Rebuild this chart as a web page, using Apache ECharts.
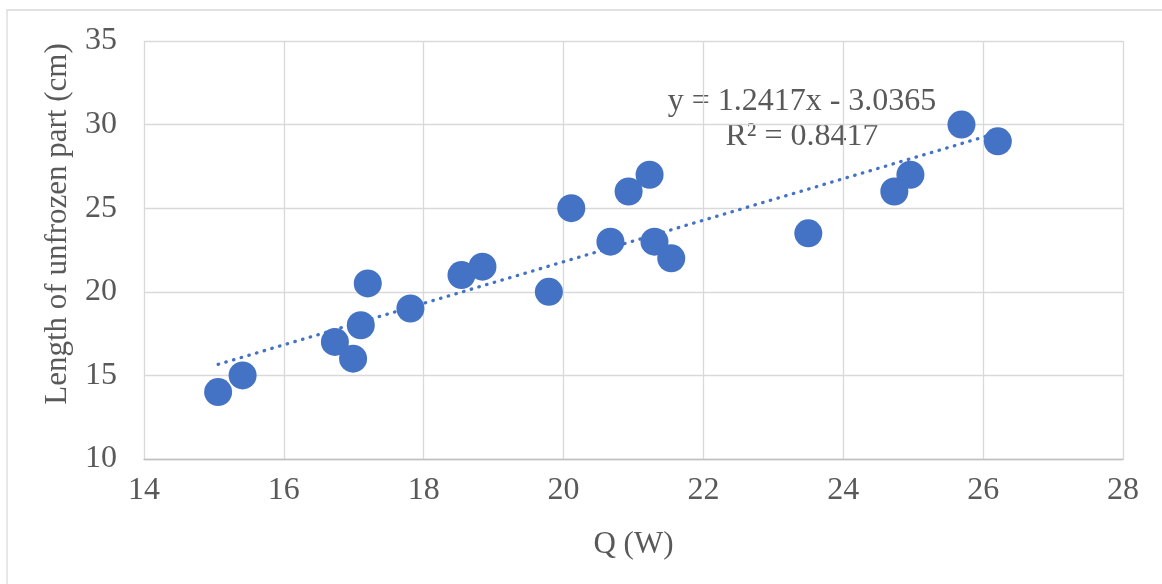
<!DOCTYPE html>
<html>
<head>
<meta charset="utf-8">
<script src="https://cdn.jsdelivr.net/npm/echarts@6/dist/echarts.min.js"></script>
<style>
html,body{margin:0;padding:0;background:#fff;}
#chart{width:1162px;height:584px;}
</style>
</head>
<body>
<div id="chart"></div>
<script>
// Data
const qValues = [15.06, 15.41, 16.73, 16.99, 17.10, 17.20, 17.81, 18.54, 18.84, 19.79, 20.11, 20.67, 20.93, 21.23, 21.30, 21.54, 23.50, 24.73, 24.96, 25.69, 26.21];
const lengthValues = [14.0, 15.0, 17.0, 16.0, 18.0, 20.5, 19.0, 21.0, 21.5, 20.0, 25.0, 23.0, 26.0, 27.0, 23.0, 22.0, 23.5, 26.0, 27.0, 30.0, 29.0];
// Linear trendline endpoints (as drawn in the reference)
const trendX = [15.06, 26.21];
const trendY = [15.66, 29.51];
const equationLines = ['y = 1.2417x - 3.0365', 'R² = 0.8417'];
const xTitle = 'Q (W)';
const yTitle = 'Length of unfrozen part (cm)';

const font = '"Liberation Serif", "Times New Roman", serif';
const scatterData = qValues.map((q, i) => [q, lengthValues[i]]);
const trendData = trendX.map((x, i) => [x, trendY[i]]);

const chart = echarts.init(document.getElementById('chart'), null, {renderer: 'canvas'});
chart.setOption({
  animation: false,
  backgroundColor: '#fff',
  grid: {left: 144, right: 39, top: 41, bottom: 125},
  xAxis: {
    type: 'value', min: 14, max: 28, interval: 2,
    name: xTitle, nameLocation: 'middle', nameGap: 70,
    nameTextStyle: {fontFamily: font, fontSize: 31, color: '#595959'},
    axisLine: {show: true, lineStyle: {color: '#bfbfbf', width: 1.3}},
    axisTick: {show: false},
    axisLabel: {fontFamily: font, fontSize: 32, color: '#595959', margin: 16},
    splitLine: {show: true, lineStyle: {color: '#d9d9d9', width: 1.3}}
  },
  yAxis: {
    type: 'value', min: 10, max: 35, interval: 5,
    axisLine: {show: false},
    axisTick: {show: false},
    axisLabel: {fontFamily: font, fontSize: 32, color: '#595959', margin: 27},
    splitLine: {show: true, lineStyle: {color: '#d9d9d9', width: 1.3}}
  },
  graphic: [
    {type: 'rect', shape: {x: 7, y: 10, width: 1200, height: 620}, style: {fill: 'none', stroke: '#d9d9d9', lineWidth: 1.3}, z: -1},
    {type: 'text', x: 58, y: 224, rotation: Math.PI / 2, style: {text: yTitle, font: '31px ' + font, fill: '#595959', textAlign: 'center', textVerticalAlign: 'middle'}},
    {type: 'text', x: 802, y: 102, style: {text: equationLines[0], font: '32px ' + font, fill: '#595959', textAlign: 'center', textVerticalAlign: 'middle'}},
    {type: 'text', x: 802, y: 137, style: {text: equationLines[1], font: '32px ' + font, fill: '#595959', textAlign: 'center', textVerticalAlign: 'middle'}}
  ],
  series: [
    {
      type: 'line', data: trendData, symbol: 'none', z: 2,
      lineStyle: {color: '#4472C4', width: 3.3, type: [0.5, 7.5], cap: 'round'}
    },
    {
      type: 'scatter', data: scatterData, symbol: 'circle', symbolSize: 28, z: 3,
      itemStyle: {color: '#4472C4', opacity: 1}
    }
  ]
});
</script>
</body>
</html>
